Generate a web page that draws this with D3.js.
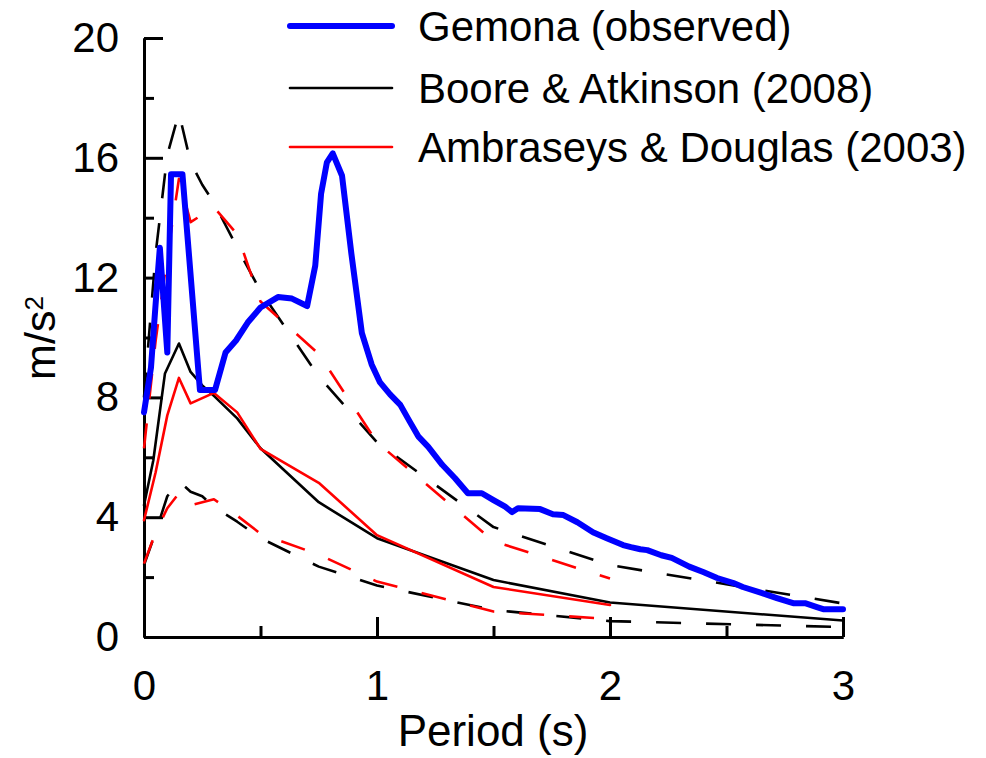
<!DOCTYPE html>
<html>
<head>
<meta charset="utf-8">
<script src="https://cdn.jsdelivr.net/npm/d3@7/dist/d3.min.js"></script>
<style>
  html, body { margin: 0; padding: 0; background: #fff; }
  svg { display: block; font-family: "Liberation Sans", Arial, sans-serif; }
</style>
</head>
<body>
<svg id="chart" width="986" height="758"></svg>
<script>
// Spectral acceleration (m/s^2) against period (s): [period, value]
const gemonaObserved = [
  [0, 7.5], [0.03, 9.0], [0.06, 12.2], [0.068, 13.0], [0.1, 9.5], [0.116, 15.45],
  [0.165, 15.45], [0.24, 8.25], [0.305, 8.25], [0.35, 9.5], [0.395, 9.9], [0.445, 10.5],
  [0.5, 11.0], [0.575, 11.35], [0.635, 11.3], [0.70, 11.05], [0.735, 12.4], [0.76, 14.8],
  [0.785, 15.85], [0.81, 16.15], [0.85, 15.4], [0.89, 12.8], [0.935, 10.15], [0.977, 9.1],
  [1.013, 8.5], [1.056, 8.1], [1.1, 7.75], [1.14, 7.2], [1.177, 6.7], [1.22, 6.35],
  [1.28, 5.75], [1.335, 5.3], [1.39, 4.8], [1.45, 4.8], [1.5, 4.57], [1.55, 4.35],
  [1.58, 4.17], [1.605, 4.3], [1.7, 4.27], [1.755, 4.1], [1.8, 4.07], [1.86, 3.83],
  [1.927, 3.5], [1.986, 3.3], [2.056, 3.07], [2.09, 3.0], [2.13, 2.93], [2.16, 2.9],
  [2.22, 2.73], [2.265, 2.64], [2.34, 2.35], [2.4, 2.17], [2.46, 1.97], [2.53, 1.8],
  [2.57, 1.67], [2.65, 1.47], [2.716, 1.3], [2.786, 1.13], [2.837, 1.13], [2.888, 1.0],
  [2.915, 0.93], [3.0, 0.93]
];

// Boore & Atkinson (2008): median and median +/- one sigma
const booreMedian = [
  [0, 4.4], [0.04, 5.9], [0.09, 8.8], [0.15, 9.8], [0.2, 8.85], [0.25, 8.4], [0.3, 8.05],
  [0.4, 7.3], [0.5, 6.3], [0.75, 4.5], [1.0, 3.3], [1.5, 1.9], [2.0, 1.15], [3.0, 0.55]
];
const boorePlus = [
  [0, 8.0], [0.05, 12.8], [0.1, 16.1], [0.15, 17.5], [0.2, 15.85], [0.25, 15.1], [0.3, 14.5],
  [0.4, 13.0], [0.5, 11.55], [0.75, 8.7], [1.0, 6.5], [1.5, 3.67], [2.0, 2.4], [3.0, 1.12]
];
const booreMinus = [
  [0, 2.4], [0.05, 3.5], [0.1, 4.7], [0.15, 5.2], [0.2, 4.85], [0.25, 4.7], [0.3, 4.35],
  [0.4, 3.85], [0.5, 3.3], [0.75, 2.35], [1.0, 1.72], [1.5, 0.9], [2.0, 0.53], [3.0, 0.33]
];

// Ambraseys & Douglas (2003): median and median +/- one sigma
const ambraseysMedian = [
  [0, 3.9], [0.05, 5.5], [0.1, 7.4], [0.15, 8.65], [0.2, 7.8], [0.3, 8.15], [0.4, 7.5],
  [0.5, 6.28], [0.75, 5.15], [1.0, 3.4], [1.5, 1.67], [2.0, 1.07]
];
const ambraseysPlus = [
  [0, 6.3], [0.05, 9.9], [0.1, 12.7], [0.15, 15.3], [0.2, 13.85], [0.3, 14.35], [0.4, 13.45],
  [0.5, 11.2], [0.75, 9.45], [1.0, 6.5], [1.5, 3.2], [2.0, 1.95]
];
const ambraseysMinus = [
  [0, 2.45], [0.05, 3.5], [0.1, 4.3], [0.15, 4.8], [0.2, 4.4], [0.3, 4.6], [0.4, 4.05],
  [0.5, 3.45], [0.75, 2.75], [1.0, 1.85], [1.5, 0.85], [2.0, 0.6]
];

const xMajorTicks = [0, 1, 2, 3];
const xMinorTicks = [0.5, 1.5, 2.5];
const yMajorTicks = [0, 4, 8, 12, 16, 20];
const yMinorTicks = [2, 6, 10, 14, 18];

const legendLabels = ["Gemona (observed)", "Boore & Atkinson (2008)", "Ambraseys & Douglas (2003)"];

const svg = d3.select("#chart");
const fontSize = 42;

const x = d3.scaleLinear().domain([0, 3]).range([144, 843]);
const y = d3.scaleLinear().domain([0, 20]).range([637, 38]);

const line = d3.line().x(d => x(d[0])).y(d => y(d[1]));

// Axes: ticks point into the plot area
const yAxisMinor = d3.axisLeft(y).tickValues(yMinorTicks).tickSizeInner(-10).tickSizeOuter(0).tickFormat("");
const yAxisMajor = d3.axisLeft(y).tickValues(yMajorTicks).tickSizeInner(-19).tickSizeOuter(0)
  .tickPadding(25).tickFormat(d3.format("d"));
const xAxisMinor = d3.axisBottom(x).tickValues(xMinorTicks).tickSizeInner(-11).tickSizeOuter(0).tickFormat("");
const xAxisMajor = d3.axisBottom(x).tickValues(xMajorTicks).tickSizeInner(-20).tickSizeOuter(0)
  .tickPadding(33).tickFormat(d3.format("d"));

function styleAxis(g) {
  g.selectAll("path.domain").attr("stroke", "#000").attr("stroke-width", 3);
  g.selectAll(".tick line").attr("stroke", "#000").attr("stroke-width", 3);
  g.selectAll(".tick text").attr("fill", "#000").style("font-size", fontSize + "px")
    .style("font-family", "'Liberation Sans', Arial, sans-serif");
  g.attr("font-family", null).attr("font-size", null);
}

svg.append("g").attr("transform", `translate(${x(0)},0)`).call(yAxisMinor).call(styleAxis);
svg.append("g").attr("transform", `translate(${x(0)},0)`).call(yAxisMajor).call(styleAxis);
svg.append("g").attr("transform", `translate(0,${y(0)})`).call(xAxisMinor).call(styleAxis);
svg.append("g").attr("transform", `translate(0,${y(0)})`).call(xAxisMajor).call(styleAxis);

// Model curves
const series = [
  { data: booreMinus, color: "#000", width: 2.6, dash: "25,25" },
  { data: boorePlus, color: "#000", width: 2.6, dash: "25,25" },
  { data: ambraseysMinus, color: "#ff0000", width: 2.6, dash: "25,25" },
  { data: ambraseysPlus, color: "#ff0000", width: 2.6, dash: "25,25" },
  { data: booreMedian, color: "#000", width: 2.6, dash: null },
  { data: ambraseysMedian, color: "#ff0000", width: 2.6, dash: null },
  { data: gemonaObserved, color: "#0000ff", width: 6, dash: null }
];

svg.append("g").selectAll("path.curve")
  .data(series)
  .join("path")
  .attr("class", "curve")
  .attr("d", d => line(d.data))
  .attr("fill", "none")
  .attr("stroke", d => d.color)
  .attr("stroke-width", d => d.width)
  .attr("stroke-dasharray", d => d.dash)
  .attr("stroke-linejoin", "round")
  .attr("stroke-linecap", d => d.dash ? "butt" : "round");

// Legend
const legendItems = [
  { label: legendLabels[0], color: "#0000ff", width: 6, y: 26 },
  { label: legendLabels[1], color: "#000", width: 2.6, y: 88 },
  { label: legendLabels[2], color: "#ff0000", width: 2.6, y: 147 }
];
const legend = svg.append("g");
legend.selectAll("line")
  .data(legendItems)
  .join("line")
  .attr("x1", 290).attr("x2", 392)
  .attr("y1", d => d.y).attr("y2", d => d.y)
  .attr("stroke", d => d.color)
  .attr("stroke-width", d => d.width)
  .attr("stroke-linecap", "round");
legend.selectAll("text")
  .data(legendItems)
  .join("text")
  .attr("x", 418)
  .attr("y", d => d.y + 15)
  .style("font-size", fontSize + "px")
  .attr("fill", "#000")
  .text(d => d.label);

// Axis titles
svg.append("text")
  .attr("x", 493).attr("y", 746)
  .attr("text-anchor", "middle")
  .style("font-size", "44px")
  .text("Period (s)");

const yTitle = svg.append("text")
  .attr("transform", "translate(55,338) rotate(-90)")
  .attr("text-anchor", "middle")
  .style("font-size", "43px");
yTitle.append("tspan").text("m/s");
yTitle.append("tspan").attr("dy", "-0.45em").style("font-size", "26px").text("2");
</script>
</body>
</html>
